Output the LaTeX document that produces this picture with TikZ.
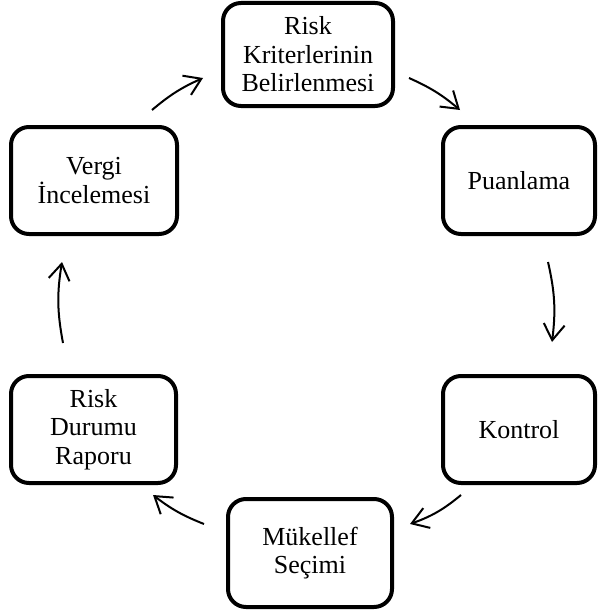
\documentclass[tikz,border=0pt]{standalone}
\usepackage{fontspec}
\setmainfont{Liberation Serif}
\usetikzlibrary{arrows.meta}
\begin{document}
\begin{tikzpicture}[x=1pt, y=-1pt,
  stepbox/.style={draw, line width=4pt, rounded corners=18pt, align=center, inner sep=0pt,
    font=\fontsize{26}{28.5}\selectfont},
  flow/.style={-{Straight Barb[length=16pt, width=21pt]}, line width=2pt}]

\useasboundingbox (0,0) rectangle (597,610);

\node[stepbox, minimum width=170pt, minimum height=103pt] (kriter) at (308,54.5) {Risk\\Kriterlerinin\\Belirlenmesi}; % Step.1
\node[stepbox, minimum width=152pt, minimum height=107pt] (puan) at (519,180.5) {Puanlama}; % Step.2
\node[stepbox, minimum width=152pt, minimum height=107pt] (kontrol) at (519,429.5) {Kontrol}; % Step.3
\node[stepbox, minimum width=164pt, minimum height=108pt] (secim) at (310,553) {Mükellef\\Seçimi}; % Step.4
\node[stepbox, minimum width=165pt, minimum height=107pt] (rapor) at (93.5,429.5) {Risk\\Durumu\\Raporu}; % Step.5
\node[stepbox, minimum width=166pt, minimum height=107pt] (vergi) at (94,180.5) {Vergi\\İncelemesi}; % Step.6

\draw[flow] ([xshift=14pt, yshift=-23.5pt]kriter.east) to[bend left=8] ([xshift=19pt, yshift=15pt]puan.north west); % kriter-puan
\draw[flow] ([xshift=29pt, yshift=-26pt]puan.south) to[bend left=10] ([xshift=33pt, yshift=32pt]kontrol.north); % puan-kontrol
\draw[flow] ([xshift=20pt, yshift=-10pt]kontrol.south west) to[bend left=10] ([xshift=16pt, yshift=-27pt]secim.north east); % kontrol-secim
\draw[flow] ([xshift=-22pt, yshift=-27pt]secim.north west) to[bend left=8] ([xshift=-25pt, yshift=-10pt]rapor.south east); % secim-rapor
\draw[flow] ([xshift=-30.5pt, yshift=31pt]rapor.north) to[bend left=10] ([xshift=-32pt, yshift=-26pt]vergi.south); % rapor-vergi
\draw[flow] ([xshift=-27pt, yshift=15pt]vergi.north east) to[bend left=8] ([xshift=-18pt, yshift=-23.5pt]kriter.west); % vergi-kriter

\end{tikzpicture}
\end{document}
